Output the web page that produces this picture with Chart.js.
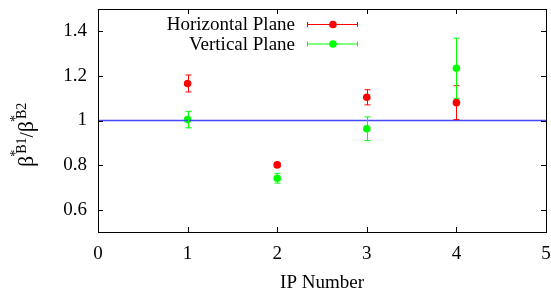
<!DOCTYPE html>
<html>
<head>
<meta charset="utf-8">
<script src="https://cdn.jsdelivr.net/npm/chart.js@4"></script>
<style>
  html, body { margin: 0; padding: 0; background: #fff; }
  #wrap { width: 551px; height: 291px; }
</style>
</head>
<body>
<div id="wrap"><canvas id="chart" width="551" height="291"></canvas></div>
<script>
// data
const ipNumbers = [1, 2, 3, 4];
const horizontal = [1.166, 0.801, 1.104, 1.080];
const horizontalErr = [0.038, 0.008, 0.034, 0.076];
const vertical = [1.004, 0.741, 0.963, 1.234];
const verticalErr = [0.037, 0.022, 0.053, 0.135];
const xTicks = [0, 1, 2, 3, 4, 5];
const yTicks = [0.6, 0.8, 1, 1.2, 1.4];
const refLine = [1, 1];

const serif = '"Liberation Serif", "DejaVu Serif", serif';

function points(ys) {
    return ipNumbers.map((x, i) => ({x: x, y: ys[i]}));
}

// error bars, inward ticks, frame, legend and axis titles, gnuplot style
const gnuplotLook = {
    id: 'gnuplotLook',
    afterDatasetsDraw(chart) {
        const ctx = chart.ctx;
        const xs = chart.scales.x, ys = chart.scales.y;
        const errs = [null, horizontalErr, verticalErr];
        chart.data.datasets.forEach((ds, di) => {
            if (!errs[di]) return;
            ctx.save();
            ctx.strokeStyle = ds.borderColor;
            ctx.lineWidth = 1;
            ds.data.forEach((p, i) => {
                const px = Math.round(xs.getPixelForValue(p.x)) + 0.5;
                const top = ys.getPixelForValue(p.y + errs[di][i]);
                const bot = ys.getPixelForValue(p.y - errs[di][i]);
                ctx.beginPath();
                ctx.moveTo(px, top); ctx.lineTo(px, bot);
                ctx.moveTo(px - 3, top); ctx.lineTo(px + 3, top);
                ctx.moveTo(px - 3, bot); ctx.lineTo(px + 3, bot);
                ctx.stroke();
            });
            ctx.restore();
        });
    },
    afterDraw(chart) {
        const ctx = chart.ctx;
        const a = chart.chartArea;
        const xs = chart.scales.x, ys = chart.scales.y;
        ctx.save();
        ctx.strokeStyle = '#000';
        ctx.lineWidth = 1;
        ctx.strokeRect(Math.round(a.left) + 0.5, Math.round(a.top) + 0.5,
            Math.round(a.right - a.left), Math.round(a.bottom - a.top));
        ctx.beginPath();
        xTicks.forEach(v => {
            const px = Math.round(xs.getPixelForValue(v)) + 0.5;
            ctx.moveTo(px, a.bottom); ctx.lineTo(px, a.bottom - 5);
            ctx.moveTo(px, a.top); ctx.lineTo(px, a.top + 5);
        });
        yTicks.forEach(v => {
            const py = Math.round(ys.getPixelForValue(v)) + 0.5;
            ctx.moveTo(a.left, py); ctx.lineTo(a.left + 5, py);
            ctx.moveTo(a.right, py); ctx.lineTo(a.right - 5, py);
        });
        ctx.stroke();

        // legend
        ctx.font = '19px ' + serif;
        ctx.textAlign = 'right';
        ctx.textBaseline = 'alphabetic';
        [1, 2].forEach((di, row) => {
            const ds = chart.data.datasets[di];
            const cy = 24 + row * 19.5;
            ctx.fillStyle = '#000';
            ctx.fillText(ds.label, 295, cy + 6);
            ctx.strokeStyle = ds.borderColor;
            ctx.beginPath();
            ctx.moveTo(307, cy + 0.5); ctx.lineTo(358, cy + 0.5);
            ctx.moveTo(307.5, cy - 2); ctx.lineTo(307.5, cy + 3);
            ctx.moveTo(357.5, cy - 2); ctx.lineTo(357.5, cy + 3);
            ctx.stroke();
            ctx.fillStyle = ds.backgroundColor;
            ctx.beginPath();
            ctx.arc(333, cy + 0.5, 3.8, 0, Math.PI * 2);
            ctx.fill();
        });

        // x title
        ctx.fillStyle = '#000';
        ctx.textAlign = 'center';
        ctx.fillText('IP Number', (a.left + a.right) / 2, 288);

        // y title: beta*_B1 / beta*_B2, laid out along the rotated baseline
        ctx.translate(33, 121);
        ctx.rotate(-Math.PI / 2);
        ctx.textAlign = 'left';
        const big = '22px ' + serif, mid = '19px ' + serif, small = '14px ' + serif;
        function piece(font, t, u, v) {
            ctx.font = font; ctx.fillText(t, u, v); return ctx.measureText(t).width;
        }
        let u = -46;
        u += piece(big, 'β', u, 0);
        const s1 = piece(small, '*', u - 1, -13);
        u += Math.max(s1, piece(small, 'B1', u + 2, -7)) + 2;
        u += piece(mid, '/', u, 0);
        u += piece(big, 'β', u, 0);
        piece(small, '*', u - 1, -13);
        piece(small, 'B2', u + 2, -7);
        ctx.restore();
    }
};

new Chart(document.getElementById('chart'), {
    type: 'scatter',
    data: {
        datasets: [{
            type: 'line',
            label: 'ref',
            data: [{x: 0, y: refLine[0]}, {x: 5, y: refLine[1]}],
            borderColor: '#4646ff',
            borderWidth: 1.3,
            pointRadius: 0,
            fill: false
        }, {
            label: 'Horizontal Plane',
            data: points(horizontal),
            borderColor: '#ff0000',
            backgroundColor: '#ff0000',
            pointRadius: 3.8,
            pointBorderWidth: 0
        }, {
            label: 'Vertical Plane',
            data: points(vertical),
            borderColor: '#00ff00',
            backgroundColor: '#00ff00',
            pointRadius: 3.8,
            pointBorderWidth: 0
        }]
    },
    options: {
        responsive: false,
        animation: false,
        layout: {padding: {top: 9, right: 5, left: 0, bottom: 0}},
        plugins: {legend: {display: false}, tooltip: {enabled: false}},
        scales: {
            x: {
                type: 'linear', min: 0, max: 5,
                grid: {display: false, drawTicks: false},
                border: {display: false},
                afterBuildTicks: s => { s.ticks = xTicks.map(v => ({value: v})); },
                afterFit: s => { s.height = 59; s.paddingLeft = 0; s.paddingRight = 0; },
                ticks: {
                    color: '#000', padding: 11, maxRotation: 0, autoSkip: false,
                    font: {family: serif, size: 19},
                    callback: v => String(v)
                }
            },
            y: {
                type: 'linear', min: 0.5, max: 1.5,
                grid: {display: false, drawTicks: false},
                border: {display: false},
                afterBuildTicks: s => { s.ticks = yTicks.map(v => ({value: v})); },
                afterFit: s => { s.width = 98; s.paddingTop = 0; s.paddingBottom = 0; },
                ticks: {
                    color: '#000', padding: 11,
                    font: {family: serif, size: 19},
                    callback: v => String(+v.toFixed(2))
                }
            }
        }
    },
    plugins: [gnuplotLook]
});
</script>
</body>
</html>
